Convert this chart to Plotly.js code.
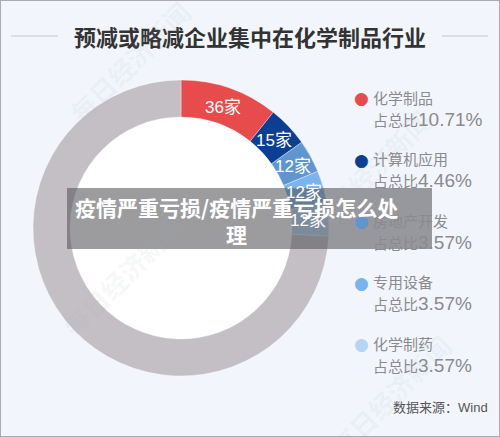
<!DOCTYPE html>
<html>
<head>
<meta charset="utf-8">
<script src="https://cdn.plot.ly/plotly-3.0.1.min.js"></script>
<style>html,body{margin:0;padding:0;background:#f2f6fc;}#chart{width:500px;height:437px;}</style>
</head>
<body>
<div id="chart"></div>
<script>
// ---- data ----
const industries = ["化学制品", "计算机应用", "房地产开发", "专用设备", "化学制药", "其他"];
const companyCounts = [36, 15, 12, 12, 12, 249];
const shareLabels = ["10.71%", "4.46%", "3.57%", "3.57%", "3.57%"];
const sliceColors = ["#e84b4b", "#0b3f94", "#5f96cf", "#7ab3ee", "#b3d6f6", "#c3bfc5"];

const W = 500, H = 437;
const CX = 181, CY = 228, R = 148, HOLE = 0.75;
const FONT = "Noto Sans CJK SC, Noto Sans, sans-serif";
const FONT_MIX = "Liberation Sans, Noto Sans CJK SC, sans-serif";

const px = x => x / W;
const py = y => 1 - y / H;

const total = companyCounts.reduce((a, b) => a + b, 0);

const trace = {
  type: "pie",
  values: companyCounts,
  labels: industries,
  marker: { colors: sliceColors, line: { color: "rgba(255,255,255,0.6)", width: 0.6 } },
  hole: HOLE,
  sort: false,
  direction: "clockwise",
  rotation: 0,
  textinfo: "none",
  hoverinfo: "none",
  showlegend: false,
  domain: { x: [px(CX - R), px(CX + R)], y: [py(CY + R), py(CY - R)] }
};

const annotations = [];
const shapes = [];

// slice labels, positioned at the middle angle of each slice
let cum = 0;
const rMid = R * (1 + HOLE) / 2 - 2;
for (let i = 0; i < 5; i++) {
  const mid = (cum + companyCounts[i] / 2) / total * 2 * Math.PI;
  cum += companyCounts[i];
  annotations.push({
    xref: "paper", yref: "paper",
    x: px(CX + rMid * Math.sin(mid)), y: py(CY - rMid * Math.cos(mid)),
    xanchor: "center", yanchor: "middle", showarrow: false,
    text: companyCounts[i] + "家",
    font: { family: FONT_MIX, size: 17, color: "#ffffff" }
  });
}

// legend
const legY0 = 97, legStep = 61.5;
for (let i = 0; i < 5; i++) {
  const y = legY0 + i * legStep;
  annotations.push({
    xref: "paper", yref: "paper", x: px(361), y: py(y + 1),
    xanchor: "center", yanchor: "middle", showarrow: false,
    text: "●", font: { family: "DejaVu Sans", size: 17, color: sliceColors[i] }
  });
  annotations.push({
    xref: "paper", yref: "paper", x: px(371), y: py(y),
    xanchor: "left", yanchor: "middle", showarrow: false,
    text: industries[i], font: { family: FONT, size: 15, color: "#8a8a8f" }
  });
  annotations.push({
    xref: "paper", yref: "paper", x: px(371), y: py(y + 22),
    xanchor: "left", yanchor: "middle", showarrow: false,
    text: "占总比<span style=\"font-size:19px\">" + shareLabels[i] + "</span>",
    font: { family: FONT_MIX, size: 15, color: "#8a8a8f" }
  });
}

// title
annotations.push({
  xref: "paper", yref: "paper", x: 0.5, y: py(36),
  xanchor: "center", yanchor: "middle", showarrow: false,
  text: "<b>预减或略减企业集中在化学制品行业</b>",
  font: { family: FONT, size: 22, color: "#333333" }
});
shapes.push({ type: "line", xref: "paper", yref: "paper", x0: px(11), x1: px(58), y0: py(36), y1: py(36), line: { color: "#c4c6cc", width: 1 } });
shapes.push({ type: "line", xref: "paper", yref: "paper", x0: px(442), x1: px(488), y0: py(36), y1: py(36), line: { color: "#c4c6cc", width: 1 } });

// source
annotations.push({
  xref: "paper", yref: "paper", x: px(490), y: py(407),
  xanchor: "right", yanchor: "middle", showarrow: false,
  text: "数据来源：Wind", font: { family: FONT_MIX, size: 13, color: "#555555" }
});

// watermarks
const wm = [[130, 62], [122, 275], [370, 170], [390, 395]];
wm.forEach(p => annotations.push({
  xref: "paper", yref: "paper", x: px(p[0]), y: py(p[1]),
  xanchor: "center", yanchor: "middle", showarrow: false, textangle: -45,
  text: "<b>每日经济新闻</b>", font: { family: FONT, size: 26, color: "rgba(165,170,180,0.10)" }
}));

// white hole
shapes.push({ type: "circle", xref: "paper", yref: "paper", layer: "below",
  x0: px(CX - R * HOLE), x1: px(CX + R * HOLE), y0: py(CY + R * HOLE), y1: py(CY - R * HOLE),
  fillcolor: "#ffffff", line: { width: 0 } });

// overlay banner
shapes.push({ type: "rect", xref: "paper", yref: "paper", layer: "above",
  x0: px(67), x1: px(432), y0: py(249), y1: py(188),
  fillcolor: "rgba(85,85,88,0.58)", line: { width: 0 } });
annotations.push({
  xref: "paper", yref: "paper", x: px(236), y: py(220),
  xanchor: "center", yanchor: "middle", showarrow: false,
  text: "<b>疫情严重亏损/疫情严重亏损怎么处<br>理</b>",
  font: { family: FONT, size: 21, color: "#ffffff" }
});

// frame
shapes.push({ type: "rect", xref: "paper", yref: "paper", layer: "above",
  x0: 0, x1: 1, y0: 0, y1: 1, line: { color: "#a9abb0", width: 2 } });

const layout = {
  width: W, height: H, autosize: false,
  margin: { l: 0, r: 0, t: 0, b: 0 },
  paper_bgcolor: "#f2f6fc", plot_bgcolor: "#f2f6fc",
  annotations: annotations, shapes: shapes,
  showlegend: false
};

Plotly.newPlot("chart", [trace], layout, { staticPlot: true, displayModeBar: false });
</script>
</body>
</html>
